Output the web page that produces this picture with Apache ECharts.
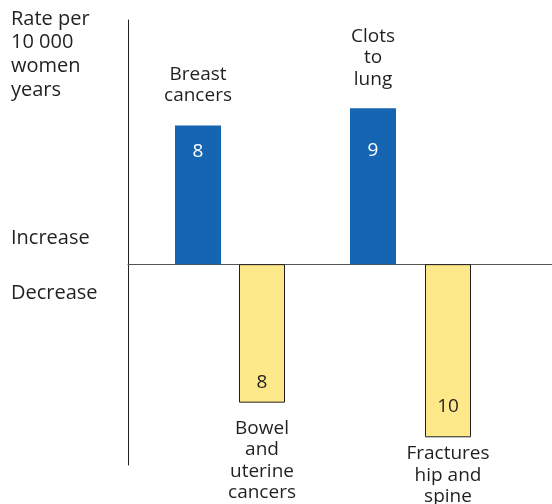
<!DOCTYPE html>
<html>
<head>
<meta charset="utf-8">
<script src="https://cdn.jsdelivr.net/npm/echarts@6/dist/echarts.min.js"></script>
<style>
html, body { margin: 0; padding: 0; background: #fff; }
#chart { width: 552px; height: 504px; }
</style>
</head>
<body>
<div id="chart"></div>
<script>
// 数据
var names = ['Breast\ncancers', 'Bowel\nand\nuterine\ncancers', 'Clots\nto\nlung', 'Fractures\nhip and\nspine'];
var values = [8, -8, 9, -10];
var xPos = [3.5, 6.7, 12.25, 16];

// 样式
var fontName = '"Open Sans", "Noto Sans", sans-serif';
var textColor = '#231f20';
var valueGap = [16, 11, 33, 21];
var nameGap = [19, 15, 18, 6];

var barData = [];
var nameData = [];
for (var i = 0; i < values.length; i++) {
	var up = values[i] > 0;
	barData.push({
		value : [xPos[i], values[i]],
		itemStyle : up ? {
			color : '#1565b2',
			borderWidth : 0
		} : {
			color : '#fde98a',
			borderColor : '#231f20',
			borderWidth : 1
		},
		label : {
			position : up ? 'insideTop' : 'insideBottom',
			distance : valueGap[i],
			color : up ? '#ffffff' : textColor
		}
	});
	nameData.push({
		value : [xPos[i], values[i]],
		label : {
			position : up ? 'top' : 'bottom',
			distance : nameGap[i]
		}
	});
}

var myChart = echarts.init(document.getElementById('chart'));
var options = {
	animation : false,
	grid : {
		left : 128,
		right : 0,
		top : 20,
		bottom : 39
	},
	xAxis : {
		type : 'value',
		min : 0,
		max : 21.2,
		axisLine : {
			show : true,
			onZero : true,
			lineStyle : { color : '#555', width : 1 }
		},
		axisTick : { show : false },
		axisLabel : { show : false },
		splitLine : { show : false }
	},
	yAxis : {
		type : 'value',
		min : -11.6,
		max : 14.1,
		axisLine : {
			show : true,
			lineStyle : { color : '#231f20', width : 1 }
		},
		axisTick : { show : false },
		axisLabel : { show : false },
		splitLine : { show : false }
	},
	graphic : [ {
		type : 'text',
		x : 11,
		y : 7,
		style : {
			text : 'Rate per\n10 000\nwomen\nyears',
			font : '20px ' + fontName,
			lineHeight : 23.7,
			fill : textColor
		}
	}, {
		type : 'text',
		x : 11,
		y : 238,
		style : {
			text : 'Increase',
			font : '20px ' + fontName,
			verticalAlign : 'middle',
			fill : textColor
		}
	}, {
		type : 'text',
		x : 11,
		y : 293,
		style : {
			text : 'Decrease',
			font : '20px ' + fontName,
			verticalAlign : 'middle',
			fill : textColor
		}
	} ],
	series : [ {
		name : 'names',
		type : 'bar',
		barWidth : 46,
		barGap : '-100%',
		silent : true,
		itemStyle : { color : 'rgba(0,0,0,0)' },
		label : {
			show : true,
			formatter : function(p) {
				return names[p.dataIndex];
			},
			fontFamily : fontName,
			fontSize : 19,
			lineHeight : 21.5,
			color : textColor,
			align : 'center'
		},
		data : nameData
	}, {
		name : 'rate',
		type : 'bar',
		barWidth : 46,
		barGap : '-100%',
		label : {
			show : true,
			formatter : function(p) {
				return Math.abs(p.value[1]);
			},
			fontFamily : fontName,
			fontSize : 19
		},
		data : barData
	} ]
};
myChart.setOption(options);
</script>
</body>
</html>
